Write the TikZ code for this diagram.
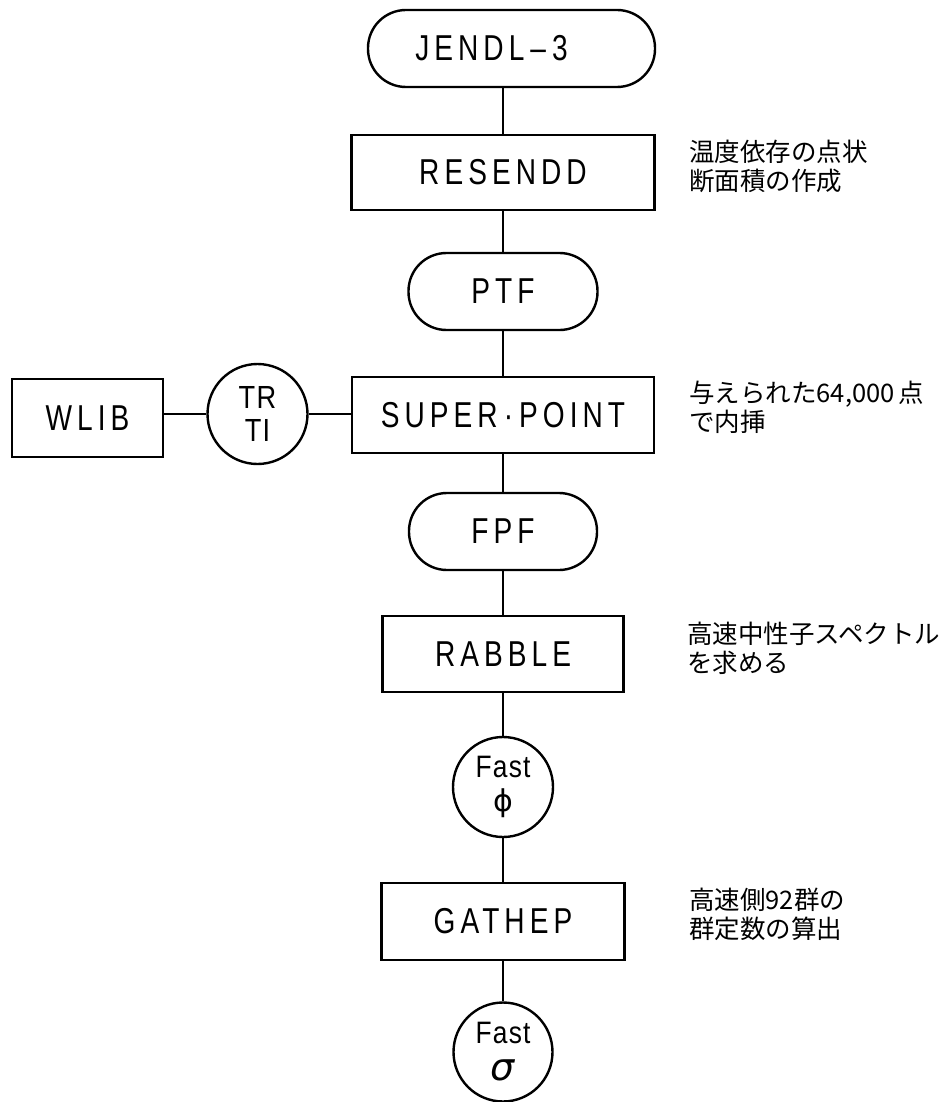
\documentclass[tikz,border=0pt]{standalone}
\usepackage{fontspec}
\newfontfamily\plotfont[FakeStretch=0.78,LetterSpace=14]{Liberation Sans}
\newfontfamily\plotfontB[FakeStretch=0.85,LetterSpace=4]{Liberation Sans}
\newfontfamily\jpfont{Noto Sans CJK JP}
\newfontfamily\grkfont{DejaVu Sans}
\begin{document}
\begin{tikzpicture}[x=1pt,y=-1pt,line width=2.4pt,
  box/.style={draw,rectangle,inner sep=0pt,font=\plotfont\fontsize{36}{40}\selectfont},
  stadium/.style={box,rounded corners=38pt},
  circ/.style={draw,circle,inner sep=0pt,minimum size=100pt,align=center},
  note/.style={anchor=west,align=left,inner sep=0pt,font=\jpfont\fontsize{25.5}{29}\selectfont}]
\useasboundingbox (0,0) rectangle (949,1102);

\node[stadium,minimum width=287pt,minimum height=77pt] (jendl) at (511.5,48.5) {JENDL\,–\,3\hspace*{40pt}};
\node[box,minimum width=303pt,minimum height=75pt] (resendd) at (503,172.5) {RESENDD};
\node[stadium,minimum width=189pt,minimum height=77pt] (ptf) at (503,291.5) {PTF};
\node[box,minimum width=302pt,minimum height=76pt] (super) at (503,415) {SUPER\,·\,POINT};
\node[circ,font=\plotfontB\fontsize{32}{33}\selectfont] (trti) at (257.5,414) {TR\\TI};
\node[box,minimum width=151pt,minimum height=78pt] (wlib) at (87.5,418) {WLIB};
\node[stadium,minimum width=188pt,minimum height=77pt] (fpf) at (503,531.5) {FPF};
\node[box,minimum width=241pt,minimum height=76pt] (rabble) at (503,654) {RABBLE};
\node[circ,font=\plotfontB\fontsize{31}{36}\selectfont] (phi) at (503,787) {Fast\\[-2pt]{\grkfont\fontsize{30}{30}\selectfont ϕ}};
\node[box,minimum width=243pt,minimum height=77pt] (gathep) at (503,921.5) {GATHEP};
\node[circ,minimum size=99pt,font=\plotfontB\fontsize{31}{36}\selectfont] (sigma) at (503,1052) {Fast\\[1pt]{\grkfont\itshape\fontsize{38}{38}\selectfont σ}};

\draw (jendl.south -| resendd.north) -- (resendd.north);
\draw (resendd.south) -- (ptf.north);
\draw (ptf.south) -- (super.north);
\draw (super.south) -- (fpf.north);
\draw (fpf.south) -- (rabble.north);
\draw (rabble.south) -- (phi.north);
\draw (phi.south) -- (gathep.north);
\draw (gathep.south) -- (sigma.north);
\draw (trti.east) -- (trti.east -| super.west);
\draw (trti.west) -- (trti.west -| wlib.east);

\node[note] (n1) at (688,166) {温度依存の点状\\断面積の作成};
\node[note] (n2) at (688,407.5) {与えられた64,000\,点\\で内挿};
\node[note] (n3) at (686,648) {高速中性子スペクトル\\を求める};
\node[note] (n4) at (688,914) {高速側92群の\\群定数の算出};
\end{tikzpicture}
\end{document}
